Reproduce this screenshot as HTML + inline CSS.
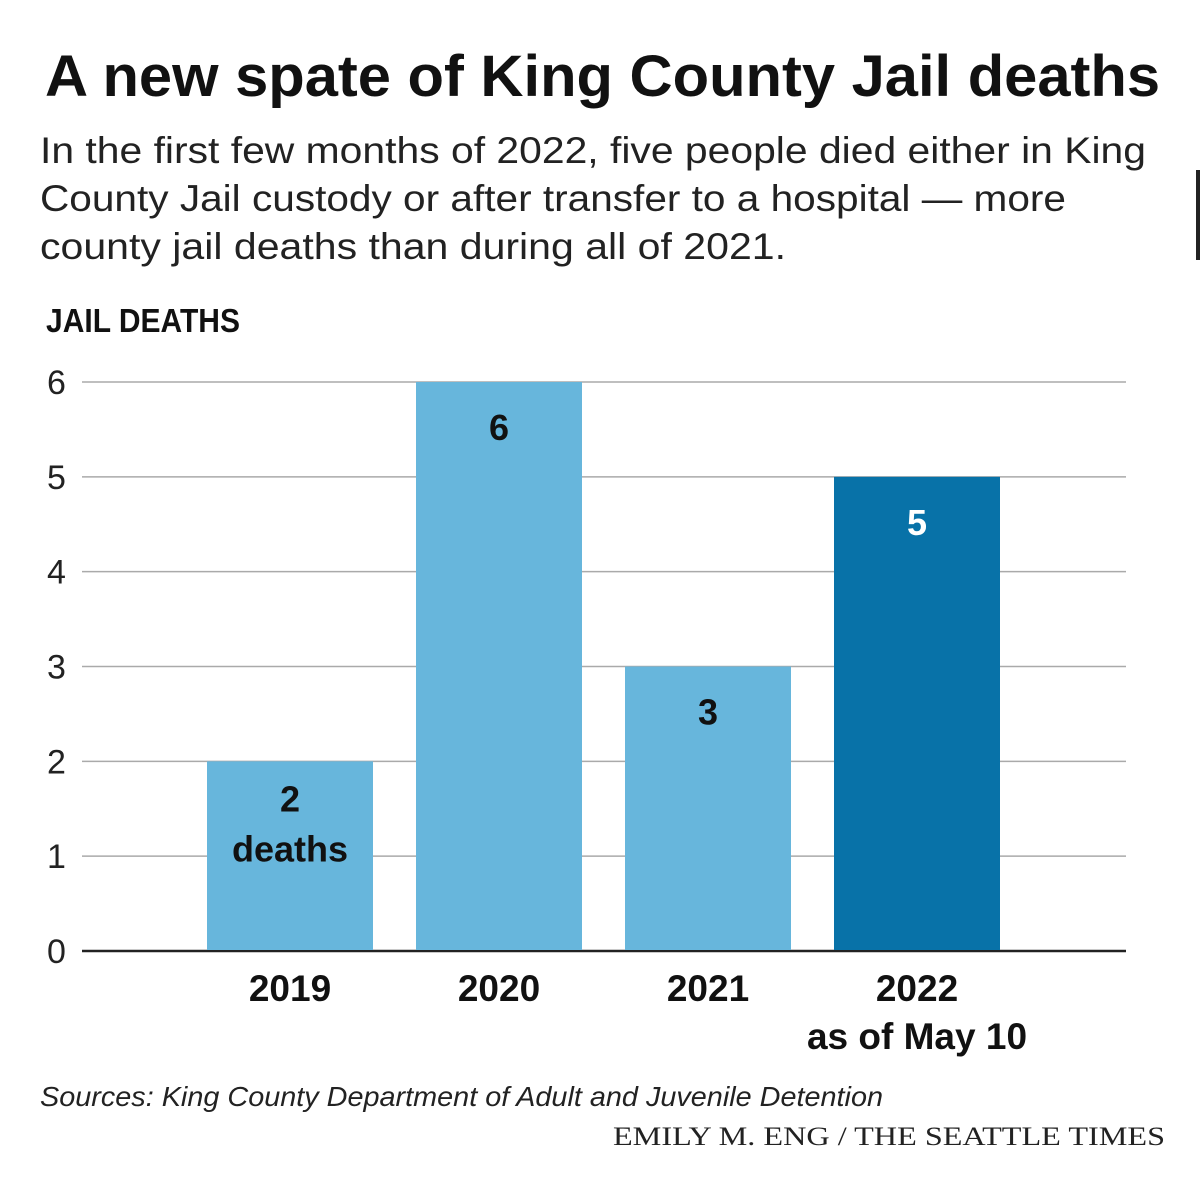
<!DOCTYPE html>
<html><head><meta charset="utf-8"><style>
html,body{margin:0;padding:0;background:#fff;}
svg{display:block;font-family:"Liberation Sans",sans-serif;}
</style></head><body>
<svg id="chart" width="1200" height="1200" viewBox="0 0 1200 1200">
<rect width="1200" height="1200" fill="#fff"/>
<text x="45" y="96" font-size="58" font-weight="bold" fill="#111" textLength="1115" lengthAdjust="spacingAndGlyphs">A new spate of King County Jail deaths</text>
<g font-size="37" fill="#222">
<text x="40" y="163" textLength="1106" lengthAdjust="spacingAndGlyphs">In the first few months of 2022, five people died either in King</text>
<text x="40" y="211" textLength="1026" lengthAdjust="spacingAndGlyphs">County Jail custody or after transfer to a hospital — more</text>
<text x="40" y="259" textLength="746" lengthAdjust="spacingAndGlyphs">county jail deaths than during all of 2021.</text>
</g>
<text x="46" y="332" font-size="33" font-weight="bold" fill="#111" textLength="194" lengthAdjust="spacingAndGlyphs">JAIL DEATHS</text>
<g id="grid"></g><g id="bars"></g><g id="labels"></g>
<text x="40" y="1106" font-size="28" font-style="italic" fill="#222" textLength="843" lengthAdjust="spacingAndGlyphs">Sources: King County Department of Adult and Juvenile Detention</text>
<text x="1165" y="1145" font-size="26" font-family="Liberation Serif, serif" fill="#222" text-anchor="end" textLength="552" lengthAdjust="spacingAndGlyphs">EMILY M. ENG / THE SEATTLE TIMES</text>
<rect x="1196" y="170" width="4" height="90" fill="#222"/>
</svg>
<script>
const categories = ["2019","2020","2021","2022"];
const subLabels = ["","","","as of May 10"];
const values = [2,6,3,5];
const valueLabels = ["2","6","3","5"];
const ticks = [0,1,2,3,4,5,6];
const NS="http://www.w3.org/2000/svg";
const y0=951, unit=94.83, xL=82, xR=1126, firstCenter=290, step=209, bw=166;
const y=v=>y0-v*unit, xc=i=>firstCenter+i*step;
function mk(tag,attrs,parent,txt){const e=document.createElementNS(NS,tag);for(const k in attrs)e.setAttribute(k,attrs[k]);if(txt!==undefined)e.textContent=txt;parent.appendChild(e);return e;}
const grid=document.getElementById('grid'),bars=document.getElementById('bars'),labels=document.getElementById('labels');
ticks.forEach(t=>{
  const l=mk('line',{x1:xL,x2:xR,y1:y(t),y2:y(t),stroke:t===0?'#222':'#aaa','stroke-width':t===0?2.5:1.5},grid);
  
  
  const tx=mk('text',{x:47,y:y(t)+12,'font-size':34,fill:'#222'},grid,String(t));
  
  
});
values.forEach((v,i)=>{
  const last=i===values.length-1;
  const r=mk('rect',{x:xc(i)-bw/2,y:y(v),width:bw,height:y0-y(v)-1,fill:last?'#0872a8':'#67b6dc'},bars);
  
  
  const vy = i===0 ? y(v)+50 : y(v)+58;
  const vt=mk('text',{x:xc(i),y:vy,'font-size':36,'font-weight':'bold','text-anchor':'middle',fill:last?'#fff':'#111'},labels,valueLabels[i]);
  
  
  if(i===0){
    const d=mk('text',{x:xc(i),y:vy+50,'font-size':36,'font-weight':'bold','text-anchor':'middle',fill:'#111'},labels,'deaths');
    
    
  }
  const c=mk('text',{x:xc(i),y:1001,'font-size':37,'font-weight':'bold','text-anchor':'middle',fill:'#111'},labels,categories[i]);
  
  
  if(subLabels[i]){
    const s=mk('text',{x:xc(i),y:1049,'font-size':37,'font-weight':'bold','text-anchor':'middle',fill:'#111'},labels,subLabels[i]);
    
    
  }
});
</script>
</body></html>
